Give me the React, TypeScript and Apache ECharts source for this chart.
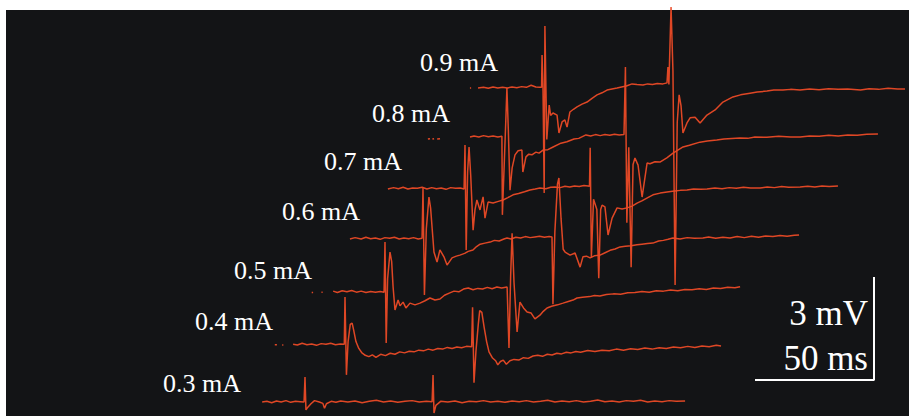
import React, { useEffect, useRef } from "react";
import * as echarts from "echarts";

// ---- data: each trace in [time (ms, 0 = first stimulus), potential (mV, 0 = baseline)] ----
type Pt = [number, number | null];

const TRACE_LABELS = ["0.3 mA", "0.4 mA", "0.5 mA", "0.6 mA", "0.7 mA", "0.8 mA", "0.9 mA"];

const trace03: Pt[] = [
  [-18, 0], [-16, 0.02], [-14, -0.02], [-12, 0.03], [-10, 0], [-8, 0.04], [-6, -0.01], [-4, 0.02], [-2, 0.01],
  [-0.4, 0], [0, 0.73], [0.4, -0.23], [1.2, -0.15], [2.5, -0.05], [4, 0.04], [6, 0], [7.5, -0.04], [8.2, -0.18],
  [9, -0.05], [11, 0.02], [13, -0.01], [15, 0.03], [18, 0], [21, 0.03], [24, -0.02], [27, 0.02], [30, 0.05],
  [33, 0], [36, 0.03], [39, -0.01], [42, 0.02], [45, 0.04], [48, 0], [51, 0.02], [53.4, 0.01], [53.8, 0.79],
  [54.2, -0.32], [55, -0.1], [57, 0.02], [60, 0], [63, 0.03], [66, -0.02], [69, 0.02], [72, 0.01], [75, 0.04],
  [78, 0], [81, 0.02], [84, -0.01], [87, 0.03], [90, 0.01], [93, 0.04], [96, 0], [99, 0.02], [102, 0.05],
  [105, 0], [108, 0.03], [111, 0.01], [114, 0.04], [117, 0], [120, 0.02], [123, 0.06], [126, 0.01], [129, 0.03],
  [132, 0], [135, 0.04], [138, 0.02], [141, 0.05], [144, 0], [147, 0.03], [150, 0.01], [153, 0.04], [156, 0.02],
  [159.7, 0.03],
];

const trace04: Pt[] = [
  [-29.5, 0.01], [-28.6, 0.01], [-28, null], [-26.4, 0], [-25.9, 0], [-24, null],
  [-21.8, 0.02], [-20, 0.0], [-18, 0.05], [-16, 0.01], [-14, 0.03], [-12, -0.01], [-10, 0.04], [-8, 0.02],
  [-6, 0.05], [-4, 0.01], [-2, 0.03], [-0.3, 0.02], [0, 1.4], [0.6, -0.87], [1.3, 0.1], [2.2, 0.6], [3, 0.64],
  [3.6, 0.45], [4.6, 0.1], [5.8, -0.1], [7, -0.22], [8.5, -0.3], [10, -0.34], [11.5, -0.29], [13, -0.36],
  [15, -0.27], [17, -0.31], [19, -0.24], [21, -0.27], [23, -0.2], [25, -0.23], [27, -0.18], [29, -0.2],
  [31, -0.15], [33, -0.17], [35, -0.12], [37, -0.15], [39, -0.1], [41, -0.12], [43, -0.07], [45, -0.1],
  [47, -0.06], [49, -0.08], [51, -0.04], [53.2, -0.05], [53.6, 1.1], [54.2, -1.1], [55, -0.2], [56, 0.6],
  [56.6, 1.0], [57.5, 0.95], [58.5, 0.5], [59.5, 0.1], [60.5, -0.2], [62, -0.38], [63.3, -0.46], [64.2, -0.58],
  [65.3, -0.48], [66.5, -0.44], [67.8, -0.56], [69.3, -0.46], [71, -0.42], [73, -0.44], [75, -0.37], [77, -0.39],
  [79, -0.32], [81, -0.3], [83, -0.33], [85, -0.27], [87, -0.29], [89, -0.24], [91, -0.26], [93, -0.21],
  [95, -0.23], [97, -0.19], [99, -0.21], [102, -0.16], [105, -0.19], [108, -0.15], [111, -0.17], [114, -0.12],
  [117, -0.15], [120, -0.11], [123, -0.13], [126, -0.09], [129, -0.12], [132, -0.08], [135, -0.1], [138, -0.06],
  [141, -0.08], [144, -0.04], [147, -0.07], [150, -0.03], [153, -0.05], [156, -0.01], [158, -0.03],
];

const trace05: Pt[] = [
  [-30.8, 0], [-30.2, 0], [-29, null], [-26.7, 0.01], [-26.2, 0.01], [-24, null],
  [-21.8, 0.04], [-20, 0.0], [-18, 0.05], [-16, 0.02], [-14, 0.06], [-12, 0.01], [-10, 0.04], [-8, 0.0],
  [-6, 0.03], [-4, 0.01], [-2, 0.03], [-0.4, 0.01], [0, 1.47], [0.5, -1.47], [1.1, 0.4], [2.1, 1.18], [2.8, 0.9],
  [3.4, 0.16], [4.2, -0.51], [5.5, -0.22], [6.3, -0.39], [7.6, -0.28], [8.8, -0.45], [10.5, -0.31], [12.6, -0.36],
  [14.7, -0.31], [16.8, -0.24], [18.9, -0.16], [21, -0.22], [23.1, -0.19], [25, -0.08], [27, -0.02], [29, 0.04],
  [31, 0.02], [33, 0.1], [35, 0.13], [37, 0.08], [39, 0.12], [41, 0.1], [43, 0.15], [45, 0.11], [47, 0.16],
  [49, 0.13], [51.3, 0.16], [52.1, -1.62], [52.8, 0.5], [53.4, 1.73], [54.2, 0.3], [55.5, -1.15], [56.7, -0.28],
  [58.2, -0.45], [59.7, -0.57], [61.4, -0.6], [63, -0.77], [65.1, -0.66], [66.5, -0.55], [68.1, -0.45], [70, -0.4],
  [72.5, -0.36], [74.8, -0.31], [77, -0.26], [79, -0.22], [80.7, -0.16], [83, -0.14], [86, -0.12], [88, -0.09],
  [90.3, -0.1], [93, -0.06], [96, -0.04], [99, -0.05], [102, -0.01], [105, 0.0], [108, 0.03], [111, 0.01],
  [114, 0.05], [117, 0.04], [120, 0.07], [123, 0.05], [126, 0.09], [129, 0.08], [132, 0.11], [135, 0.09],
  [138, 0.13], [141, 0.12], [144, 0.15], [147, 0.14], [149.2, 0.17],
];

const trace06: Pt[] = [
  [-30.7, 0.0], [-28.5, 0.04], [-26, 0.0], [-24, 0.05], [-22, 0.01], [-20, 0.03], [-18, -0.01], [-16, 0.04],
  [-14, 0.02], [-12, 0.05], [-10, 0.0], [-8, 0.03], [-6, 0.01], [-4, 0.04], [-2, 0.0], [-0.4, 0.02], [0, 1.49],
  [0.6, -1.63], [1.4, 0.3], [2.5, 1.22], [3.2, 0.9], [3.8, 0.35], [4.6, -0.38], [5.9, -0.67], [7.1, -0.32],
  [8.8, -0.52], [10.1, -0.76], [12.2, -0.55], [14, -0.5], [15.5, -0.47], [17.5, -0.42], [19, -0.36], [21, -0.32],
  [22.5, -0.22], [24, -0.15], [26, -0.12], [28.2, -0.09], [30, -0.04], [32, -0.06], [34, 0.0], [35.3, 0.03],
  [37, 0.0], [39, 0.05], [41, 0.03], [43, 0.07], [45, 0.04], [47, 0.06], [49, 0.08], [51, 0.05], [53, 0.07],
  [54.2, 0.06], [54.6, -1.9], [55.4, 0.2], [56.5, 1.6], [57.1, 1.78], [58, 0.6], [58.9, -0.3], [59.7, -0.38],
  [61.8, -0.47], [63.9, -0.41], [66, -0.82], [67.2, -0.52], [68.7, -0.5], [70.2, -0.55], [72, -0.49], [74.4, -0.47],
  [76.5, -0.4], [78.6, -0.33], [80.7, -0.29], [82.8, -0.23], [85, -0.21], [87.5, -0.2], [89.9, -0.17], [92, -0.15],
  [94.3, -0.13], [96.6, -0.12], [99, -0.06], [101, -0.04], [103, -0.01], [105, 0.03], [108, 0.0], [111, 0.04],
  [114, 0.02], [117.6, 0.03], [120, 0.06], [123, 0.02], [126, 0.05], [129, 0.03], [132, 0.07], [135, 0.04],
  [138, 0.08], [141, 0.05], [144, 0.09], [147, 0.07], [150, 0.1], [153, 0.08], [156, 0.11], [158, 0.12],
];

const trace07: Pt[] = [
  [-32.4, 0.0], [-30, 0.04], [-28, 0.01], [-26, 0.05], [-24, 0.0], [-22, 0.03], [-20, 0.02], [-18, 0.05],
  [-16, 0.0], [-14, 0.04], [-12, 0.01], [-10, 0.03], [-8, -0.01], [-6, 0.04], [-4, 0.02], [-2, 0.03], [-0.4, 0.0],
  [0, 1.28], [0.5, -1.78], [1.1, 0.5], [1.7, 1.22], [2.4, 0.4], [3.4, -1.2], [4.2, -0.6], [5, -0.32], [6.3, -0.61],
  [7.6, -0.23], [8.4, -0.85], [9.7, -0.38], [11.8, -0.41], [14, -0.36], [16, -0.32], [18, -0.25], [20.2, -0.17],
  [22.5, -0.13], [25, -0.08], [27.3, -0.03], [29.5, 0.0], [31.5, 0.03], [34, 0.01], [36, 0.05], [37.8, 0.06],
  [40, 0.04], [42, 0.08], [44, 0.06], [46, 0.09], [48, 0.07], [50, 0.1], [51.7, 0.09], [52.3, 0.08], [52.6, 1.2],
  [53.1, -2.0], [54, -0.3], [55.4, -0.6], [56.2, -2.6], [57, -0.6], [57.6, -0.47], [58.8, -0.52], [60.1, -1.34],
  [61.8, -0.85], [63.9, -0.55], [66, -0.58], [68.1, -0.55], [70.2, -0.5], [72.3, -0.41], [74.5, -0.34],
  [76.8, -0.25], [79, -0.17], [82, -0.12], [84.9, -0.09], [88, -0.06], [90.5, -0.04], [93.3, -0.03], [96, 0.0],
  [99, -0.01], [101.7, 0.0], [105, 0.03], [108, 0.01], [111, 0.04], [114, 0.02], [117, 0.05], [120, 0.03],
  [124, 0.03], [127, 0.06], [130, 0.04], [133, 0.07], [136, 0.05], [140.8, 0.06], [144, 0.08], [147, 0.06],
  [150, 0.09], [153, 0.07], [156.7, 0.09],
];

const trace08: Pt[] = [
  [-32.4, -0.06], [-31.5, -0.05], [-31, null], [-30.5, -0.06], [-29.8, -0.05], [-29.2, null], [-28.5, -0.06],
  [-27.3, -0.05], [-20, null], [-14.7, 0.0], [-13, 0.03], [-11, 0.0], [-9, 0.04], [-7, 0.01], [-5, 0.03], [-3, 0.0],
  [-1.3, 0.02], [-1.1, -2.27], [0.4, 0.6], [0.8, 1.43], [1.4, 0.2], [2.1, -1.55], [3, -0.9], [4.2, -0.52],
  [5.5, -0.4], [7.1, -0.38], [7.5, -1.02], [8.8, -0.58], [10, -0.5], [11.3, -0.52], [13, -0.44], [14.3, -0.47],
  [16, -0.38], [18, -0.37], [20, -0.3], [23.5, -0.18], [26, -0.14], [29, -0.06], [31, -0.04], [34, 0.06],
  [36, 0.03], [38, 0.07], [40, 0.04], [42, 0.07], [44, 0.05], [46, 0.08], [48, 0.06], [50, 0.07], [50.6, 2.04],
  [51.2, -2.5], [52, -0.3], [53, -3.8], [53.8, -0.8], [54.6, -0.61], [55.9, -0.82], [57.6, -1.75], [59.7, -0.76],
  [60.9, -0.78], [63, -0.72], [65.1, -0.73], [68, -0.61], [70.6, -0.47], [74.8, -0.29], [77.5, -0.24],
  [81.9, -0.15], [85, -0.12], [89, -0.09], [92, -0.06], [98.7, -0.03], [102, -0.04], [105, 0.0], [110, -0.01],
  [115, 0.02], [120, 0.0], [124, 0.0], [128, 0.03], [132, 0.02], [136, 0.05], [140, 0.03], [144, 0.06],
  [148, 0.05], [152, 0.08], [156.7, 0.09],
];

const trace09: Pt[] = [
  [-30.7, 0.0], [-30.2, 0.0], [-29, null], [-27.3, 0.0], [-25, 0.02], [-23, -0.01], [-21, 0.03], [-19, 0.0],
  [-17, 0.02], [-15, 0.0], [-13, 0.03], [-11, 0.01], [-9, 0.04], [-7, 0.02], [-5, 0.08], [-3, 0.03], [-1.3, 0.02],
  [-0.6, 0.02], [-0.4, 0.96], [0, 0.0], [0.5, -3.06], [0.8, 1.81], [1.6, -1.5], [2.6, -0.5], [3.2, -0.8],
  [4.2, -0.73], [5.9, -0.79], [6.7, -1.31], [8, -0.99], [9.2, -0.93], [10.1, -1.14], [11.3, -0.7], [12.8, -0.62],
  [14.3, -0.55], [16.4, -0.47], [18.5, -0.41], [20.6, -0.3], [22.7, -0.2], [24.8, -0.14], [26.9, -0.06],
  [29, -0.03], [31.1, 0.0], [33, 0.03], [35, 0.06], [37.4, 0.12], [39.5, 0.1], [42, 0.09], [44, 0.12], [46, 0.1],
  [48, 0.13], [50.4, 0.12], [52.1, 0.15], [52.5, 0.61], [52.9, 0.1], [53.8, 2.36], [54.6, 0.5], [55.5, -5.74],
  [56.4, -1.0], [57.2, -0.2], [58, -0.52], [58.8, -1.31], [60.5, -1.02], [61.8, -0.87], [63.9, -0.85], [66, -1.02],
  [68.9, -0.79], [72.3, -0.64], [75.6, -0.41], [79.8, -0.26], [83, -0.2], [87, -0.15], [90, -0.12], [94.1, -0.09],
  [97, -0.06], [100.8, -0.06], [104, -0.04], [108, -0.06], [112, -0.03], [116, -0.05], [120, -0.02], [124, -0.04],
  [128, -0.03], [133.4, -0.06], [137, -0.02], [141, -0.04], [145, -0.01], [149, -0.03], [152.1, -0.03],
];

const TRACES: Pt[][] = [trace03, trace04, trace05, trace06, trace07, trace08, trace09];

// scale bar: 50 ms horizontal, 3 mV vertical
const SCALE_BAR_MS = 50;
const SCALE_BAR_MV = 3;
const SCALE_BAR_LABELS = ["3 mV", "50 ms"];

// ---- layout (pixels) ----
const W = 909;
const H = 416;
const PX_PER_MS = 2.38;
const PX_PER_MV = 34.3;
const X_MIN = -35;
const X_MAX = 162;
const Y_MIN = -0.4;
const Y_MAX = 1;
const STIM_X = [305, 345, 385, 423, 465, 505, 543];
const BASE_Y = [402, 345, 292.5, 239, 189, 137, 88];
const LABEL_RIGHT = [241, 273, 312, 360, 402, 450, 498];
const LABEL_CY = [383, 321, 270, 211, 161, 113, 62];
const TRACE_COLOR = "#ea4a26";
const BG = "#131416";
const SERIF = '"Liberation Serif", "Times New Roman", Times, serif';

export default function App() {
  const ref = useRef<HTMLDivElement>(null);

  useEffect(() => {
    if (!ref.current) return;
    const chart = echarts.init(ref.current, undefined, { renderer: "svg", width: W, height: H });

    const grids: any[] = [];
    const xAxes: any[] = [];
    const yAxes: any[] = [];
    const series: any[] = [];

    TRACES.forEach((data, i) => {
      grids.push({
        left: STIM_X[i] - (0 - X_MIN) * PX_PER_MS,
        top: BASE_Y[i] - Y_MAX * PX_PER_MV,
        width: (X_MAX - X_MIN) * PX_PER_MS,
        height: (Y_MAX - Y_MIN) * PX_PER_MV,
        outerBoundsMode: "none",
        containLabel: false,
      });
      xAxes.push({ type: "value", gridIndex: i, min: X_MIN, max: X_MAX, show: false });
      yAxes.push({ type: "value", gridIndex: i, min: Y_MIN, max: Y_MAX, show: false });
      series.push({
        name: TRACE_LABELS[i],
        type: "line",
        xAxisIndex: i,
        yAxisIndex: i,
        data,
        symbol: "none",
        showSymbol: false,
        clip: false,
        connectNulls: false,
        silent: true,
        lineStyle: { color: TRACE_COLOR, width: 1.5, opacity: 0.95 },
        z: 2 + i,
      });
    });

    // scale bar grid, sharing the same px/ms and px/mV
    const sb = TRACES.length;
    const sbRight = 874;
    const sbBottom = 380;
    grids.push({
      left: sbRight - SCALE_BAR_MS * PX_PER_MS,
      top: sbBottom - SCALE_BAR_MV * PX_PER_MV,
      width: SCALE_BAR_MS * PX_PER_MS,
      height: SCALE_BAR_MV * PX_PER_MV,
      outerBoundsMode: "none",
      containLabel: false,
    });
    xAxes.push({ type: "value", gridIndex: sb, min: 0, max: SCALE_BAR_MS, show: false });
    yAxes.push({ type: "value", gridIndex: sb, min: 0, max: SCALE_BAR_MV, show: false });
    series.push({
      type: "line",
      xAxisIndex: sb,
      yAxisIndex: sb,
      data: [[0, 0], [SCALE_BAR_MS, 0], [SCALE_BAR_MS, SCALE_BAR_MV]],
      symbol: "none",
      clip: false,
      silent: true,
      lineStyle: { color: "#ffffff", width: 2 },
      z: 20,
    });

    const graphic: any[] = [
      { type: "rect", shape: { x: 6, y: 10, width: W - 6, height: H - 10 }, style: { fill: BG }, z: -10, silent: true },
    ];
    TRACE_LABELS.forEach((t, i) => {
      graphic.push({
        type: "text",
        x: LABEL_RIGHT[i],
        y: LABEL_CY[i],
        z: 50,
        style: {
          text: t,
          fill: "#ffffff",
          fontSize: 26,
          fontFamily: SERIF,
          textAlign: "right",
          textVerticalAlign: "middle",
        },
      });
    });
    [313, 358].forEach((cy, k) => {
      graphic.push({
        type: "text",
        x: 868,
        y: cy,
        z: 50,
        style: {
          text: SCALE_BAR_LABELS[k],
          fill: "#ffffff",
          fontSize: 35,
          fontFamily: SERIF,
          textAlign: "right",
          textVerticalAlign: "middle",
        },
      });
    });

    chart.setOption({
      animation: false,
      backgroundColor: "#ffffff",
      grid: grids,
      xAxis: xAxes,
      yAxis: yAxes,
      series,
      graphic,
    });

    return () => chart.dispose();
  }, []);

  return <div ref={ref} style={{ position: "fixed", left: 0, top: 0, width: W, height: H }} />;
}
